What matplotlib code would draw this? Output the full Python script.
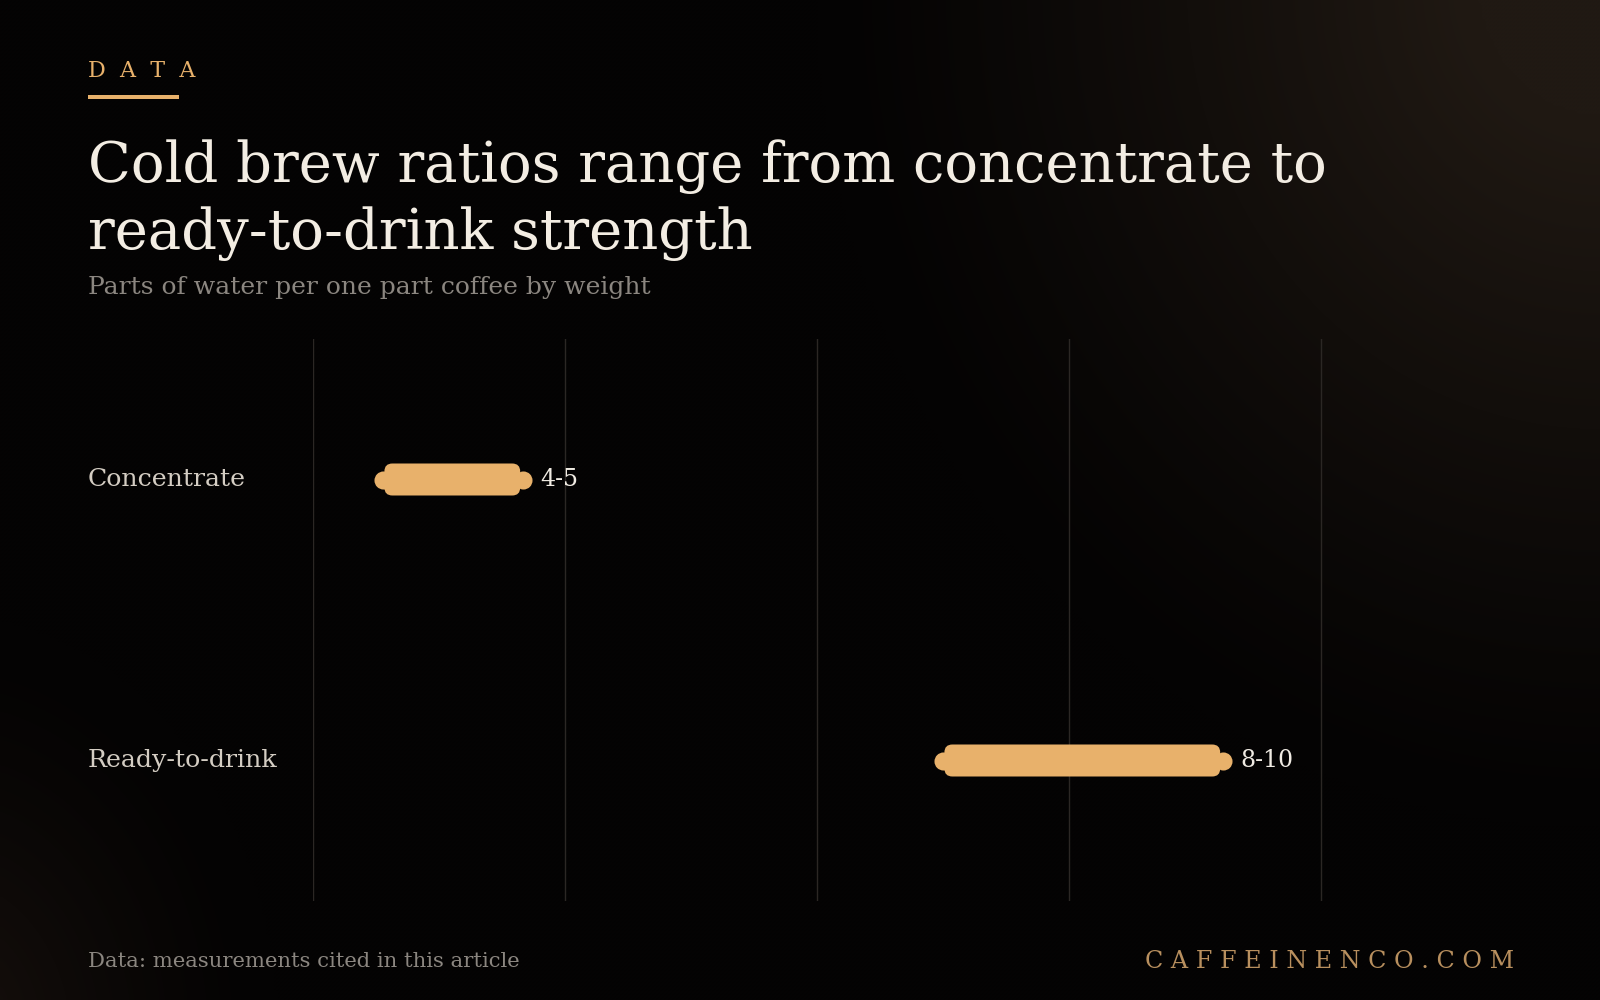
import numpy as np
import matplotlib
matplotlib.use("Agg")
import matplotlib.pyplot as plt
from matplotlib.patches import FancyBboxPatch, Rectangle
from matplotlib.transforms import blended_transform_factory

categories = ["Concentrate", "Ready-to-drink"]
low = [4, 8]
high = [5, 10]
value_labels = ["4-5", "8-10"]
grid_ticks = [3.5, 5.3, 7.1, 8.9, 10.7]

title = "Cold brew ratios range from concentrate to\nready-to-drink strength"
subtitle = "Parts of water per one part coffee by weight"
source = "Data: measurements cited in this article"
brand = "C A F F E I N E N C O . C O M"

accent = "#e8b16b"
plt.rcParams["font.family"] = "DejaVu Serif"

W, H = 1600, 1000
fig = plt.figure(figsize=(16, 10), dpi=100)

# background with soft warm glows
bg = fig.add_axes([0, 0, 1, 1])
yy, xx = np.mgrid[0:H:4, 0:W:4]
base = np.array([4, 3, 3]) / 255
r1 = np.sqrt(((xx - 1600) / 650) ** 2 + ((yy + 20) / 700) ** 2)
glow1 = np.clip(1.2 - r1, 0, 1) ** 1.2
r2 = np.sqrt(((xx + 60) / 330) ** 2 + ((yy - 1040) / 420) ** 2)
glow2 = np.clip(1.0 - r2, 0, 1) ** 1.4
img = (base[None, None, :]
       + glow1[..., None] * (np.array([28, 22, 16]) / 255)
       + glow2[..., None] * (np.array([20, 14, 10]) / 255))
bg.imshow(np.clip(img, 0, 1), extent=[0, 1, 0, 1], aspect="auto", interpolation="bicubic")
bg.set_axis_off()
bg.set_zorder(-10)

# main axes
x0, x1 = 313, 1573
y0, y1 = 339, 901
ax = fig.add_axes([x0 / W, 1 - y1 / H, (x1 - x0) / W, (y1 - y0) / H])
ax.set_facecolor("none")
ax.set_xlim(3.5, 12.5)
ax.set_ylim(1.5, -0.5)
ax.set_xticks(grid_ticks)
ax.set_yticks([])
ax.tick_params(axis="x", length=0, labelbottom=False)
ax.grid(axis="x", color="#2b2724", linewidth=1)
for s in ax.spines.values():
    s.set_visible(False)

px_x = 9 / (x1 - x0)
px_y = 2 / (y1 - y0)
bar_h = 32 * px_y
rad = 8 * px_x
for i, (lo, hi) in enumerate(zip(low, high)):
    ax.add_patch(FancyBboxPatch((lo + 0.01, i - bar_h / 2), hi - lo - 0.03, bar_h,
                                boxstyle=f"round,pad=0,rounding_size={rad}",
                                mutation_aspect=px_y / px_x,
                                facecolor=accent, edgecolor="none", zorder=3))
ypos = list(range(len(categories)))
ax.scatter(low, ypos, s=13 ** 2, color=accent, zorder=4, linewidths=0)
ax.scatter(high, ypos, s=13 ** 2, color=accent, zorder=4, linewidths=0)
for i, (hi, lab) in enumerate(zip(high, value_labels)):
    ax.annotate(lab, (hi, i), xytext=(12.5, 0), textcoords="offset points",
                va="center", ha="left", fontsize=17, color="#f0ebe3")

tr = blended_transform_factory(fig.transFigure, ax.transData)
for i, c in enumerate(categories):
    ax.text(88 / W, i, c, transform=tr, ha="left", va="center",
            fontsize=18.2, color="#d4cdc3")

# header
fig.text(88 / W, 1 - 77 / H, "D  A  T  A", fontsize=16, color=accent, va="baseline")
fig.add_artist(Rectangle((88 / W, 1 - 99 / H), 91 / W, 4 / H,
                         transform=fig.transFigure, color=accent, lw=0))
fig.text(88 / W, 1 - 249 / H, title, fontsize=40.3, color="#f3ede3",
         va="baseline", linespacing=1.28)
fig.text(88 / W, 1 - 294 / H, subtitle, fontsize=18, color="#8b8680", va="baseline")

# footer
fig.text(88 / W, 1 - 967 / H, source, fontsize=15.2, color="#8b8680", va="baseline")
fig.text(1514 / W, 1 - 968 / H, brand, fontsize=17.2, color="#b88f5e",
         va="baseline", ha="right")

fig.savefig("out.png", dpi=100)
